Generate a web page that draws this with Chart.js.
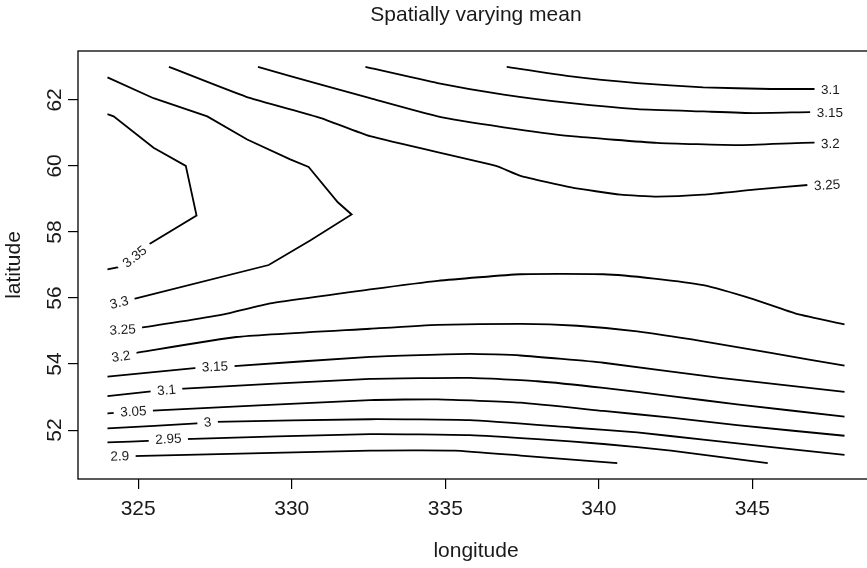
<!DOCTYPE html>
<html><head><meta charset="utf-8">
<script src="https://cdn.jsdelivr.net/npm/chart.js@4.4.1/dist/chart.umd.min.js"></script>
<style>html,body{margin:0;padding:0;background:#fff;overflow:hidden;width:867px;height:568px;}canvas{display:block;}</style>
</head><body>
<canvas id="c" width="880" height="568" style="width:880px;height:568px"></canvas>
<script>
// ---- text ----
const chartTitle = 'Spatially varying mean';
const xTitle = 'longitude';
const yTitle = 'latitude';
// ---- axes ----
const xTicks = [325, 330, 335, 340, 345];
const yTicks = [52, 54, 56, 58, 60, 62];
const xRange = [323.04, 348.96];
const yRange = [50.52, 63.48];

// ---- contour lines (longitude / latitude) ----
const lon_335 = [324.0, 324.4, 325.3, 326.9, 326.55, 325.5, 324.2, 324.0];
const lat_335 = [56.87, 56.94, 57.6, 58.5, 60.0, 60.55, 61.5, 61.57];

const lon_330 = [324.0, 325.5, 327.25, 328.55, 329.95, 330.55, 331.5, 331.95, 330.6, 329.25, 324.8, 324.0];
const lat_330 = [62.68, 62.05, 61.5, 60.8, 60.2, 59.97, 58.9, 58.53, 57.74, 57.0, 55.96, 55.78];

const lon_325_top = [326.0, 328.5, 330.95, 332.55, 336.65, 337.45, 339.1, 340.7, 341.9, 343.4, 345.05, 346.9, 348.0];
const lat_325_top = [63.0, 62.1, 61.45, 60.9, 60.0, 59.7, 59.35, 59.13, 59.07, 59.13, 59.28, 59.43, 59.5];

const lon_320_top = [328.9, 330.95, 332.55, 334.75, 336.9, 339.1, 341.9, 344.5, 346.65, 348.0];
const lat_320_top = [63.0, 62.46, 62.05, 61.5, 61.17, 60.9, 60.7, 60.63, 60.7, 60.72];

const lon_315_top = [332.4, 334.75, 336.9, 339.1, 341.25, 343.4, 345.05, 346.9, 348.0];
const lat_315_top = [63.0, 62.51, 62.16, 61.9, 61.72, 61.65, 61.6, 61.63, 61.63];

const lon_310_top = [337.0, 339.1, 341.25, 343.4, 345.6, 347.1, 348.0];
const lat_310_top = [63.0, 62.71, 62.51, 62.38, 62.33, 62.33, 62.33];

const lon_325_low = [324.0, 325.0, 327.7, 329.3, 332.55, 334.75, 337.45, 340.15, 341.8, 343.4, 345.05, 346.45, 348.0];
const lat_325_low = [55.04, 55.09, 55.49, 55.84, 56.26, 56.52, 56.72, 56.72, 56.59, 56.39, 55.96, 55.52, 55.2];

const lon_320_low = [324.0, 324.8, 328.2, 332.55, 334.75, 337.45, 339.3, 341.25, 343.4, 345.6, 348.0];
const lat_320_low = [54.21, 54.32, 54.82, 55.07, 55.19, 55.22, 55.16, 54.99, 54.69, 54.34, 53.95];

const lon_315_low = [324.0, 327.0, 328.0, 332.55, 335.8, 337.45, 340.15, 343.95, 348.0];
const lat_315_low = [53.62, 53.89, 53.93, 54.22, 54.31, 54.26, 54.04, 53.58, 53.16];

const lon_310_low = [324.0, 325.5, 326.35, 332.55, 335.8, 338.0, 340.15, 342.35, 344.5, 348.0];
const lat_310_low = [53.03, 53.18, 53.25, 53.55, 53.58, 53.48, 53.28, 53.03, 52.78, 52.41];

const lon_305 = [324.0, 325.3, 332.55, 334.75, 337.45, 340.15, 342.35, 344.5, 348.0];
const lat_305 = [52.51, 52.58, 52.91, 52.93, 52.83, 52.58, 52.38, 52.15, 51.83];

const lon_300 = [324.0, 327.05, 327.5, 332.55, 335.8, 339.1, 341.25, 343.4, 348.0];
const lat_300 = [52.05, 52.21, 52.25, 52.33, 52.3, 52.08, 51.93, 51.71, 51.25];

const lon_295 = [324.0, 325.5, 326.5, 332.55, 335.8, 338.0, 340.15, 342.35, 345.5];
const lat_295 = [51.63, 51.68, 51.73, 51.88, 51.85, 51.73, 51.58, 51.38, 51.0];

const lon_290 = [324.0, 324.8, 332.55, 335.3, 337.45, 340.6];
const lat_290 = [51.19, 51.21, 51.38, 51.38, 51.23, 51.0];

// ---- contour labels ----
const labelText = ['3.35', '3.3', '3.25', '3.2', '3.15', '3.1', '3.05', '3', '2.95', '2.9', '3.1', '3.15', '3.2', '3.25'];
const labelLon  = [324.89, 324.38, 324.49, 324.44, 327.5, 325.92, 324.84, 327.26, 325.98, 324.4, 347.54, 347.52, 347.54, 347.43];
const labelLat  = [57.25, 55.86, 55.04, 54.23, 53.92, 53.21, 52.56, 52.23, 51.73, 51.21, 62.3, 61.6, 60.67, 59.42];
const labelLine = [0, 1, 6, 7, 8, 9, 10, 11, 12, 13, 5, 4, 3, 2];

const contours = [
  {lon: lon_335, lat: lat_335, sharp: true},
  {lon: lon_330, lat: lat_330, sharp: true},
  {lon: lon_325_top, lat: lat_325_top},
  {lon: lon_320_top, lat: lat_320_top},
  {lon: lon_315_top, lat: lat_315_top},
  {lon: lon_310_top, lat: lat_310_top},
  {lon: lon_325_low, lat: lat_325_low},
  {lon: lon_320_low, lat: lat_320_low},
  {lon: lon_315_low, lat: lat_315_low},
  {lon: lon_310_low, lat: lat_310_low},
  {lon: lon_305, lat: lat_305},
  {lon: lon_300, lat: lat_300},
  {lon: lon_295, lat: lat_295},
  {lon: lon_290, lat: lat_290}
];

const FONT = '"Liberation Sans", Arial, Helvetica, sans-serif';
const TEXT = '#1a1a1a';

const datasets = contours.map(c => ({
  data: c.lon.map((x, i) => ({x: x, y: c.lat[i]})),
  showLine: true,
  borderColor: '#000',
  borderWidth: 1.8,
  pointRadius: 0,
  tension: c.sharp ? 0 : 0.15,
  fill: false
}));

const frameAndText = {
  id: 'frameAndText',
  afterDatasetsDraw(chart) {
    const {ctx, chartArea: a, scales: {x, y}} = chart;
    ctx.save();
    ctx.font = '13.5px ' + FONT;
    ctx.textAlign = 'center';
    ctx.textBaseline = 'middle';
    labelText.forEach((t, i) => {
      const px = x.getPixelForValue(labelLon[i]);
      const py = y.getPixelForValue(labelLat[i]);
      const c = contours[labelLine[i]];
      let best = Infinity, ang = 0;
      for (let k = 0; k < c.lon.length - 1; k++) {
        const ax = x.getPixelForValue(c.lon[k]), ay = y.getPixelForValue(c.lat[k]);
        const bx = x.getPixelForValue(c.lon[k + 1]), by = y.getPixelForValue(c.lat[k + 1]);
        const dx = bx - ax, dy = by - ay;
        const L = dx * dx + dy * dy;
        let u = L ? ((px - ax) * dx + (py - ay) * dy) / L : 0;
        u = Math.max(0, Math.min(1, u));
        const qx = ax + u * dx - px, qy = ay + u * dy - py;
        const d = qx * qx + qy * qy;
        if (d < best) { best = d; ang = Math.atan2(dy, dx); }
      }
      if (ang > Math.PI / 2) ang -= Math.PI;
      if (ang < -Math.PI / 2) ang += Math.PI;
      ctx.save();
      ctx.translate(px, py);
      ctx.rotate(ang);
      const w = ctx.measureText(t).width;
      ctx.fillStyle = '#fff';
      ctx.fillRect(-w / 2 - 6.5, -6.5, w + 13, 13);
      ctx.fillStyle = TEXT;
      ctx.fillText(t, 0, 0.5);
      ctx.restore();
    });
    ctx.strokeStyle = '#000';
    ctx.lineWidth = 1.3;
    ctx.strokeRect(a.left, a.top, a.right - a.left, a.bottom - a.top);
    ctx.font = '21px ' + FONT;
    ctx.fillStyle = TEXT;
    ctx.textAlign = 'center';
    ctx.textBaseline = 'middle';
    ctx.fillText(chartTitle, (a.left + a.right) / 2, 15);
    ctx.restore();
  }
};

new Chart(document.getElementById('c'), {
  type: 'scatter',
  data: {datasets},
  plugins: [frameAndText],
  options: {
    responsive: false,
    animation: false,
    devicePixelRatio: 1,
    layout: {padding: {top: 51, right: 6, left: 0, bottom: 0}},
    plugins: {legend: {display: false}, tooltip: {enabled: false}, title: {display: false}},
    scales: {
      x: {
        type: 'linear', min: xRange[0], max: xRange[1],
        afterBuildTicks: s => { s.ticks = xTicks.map(v => ({value: v})); },
        afterFit: s => { s.height = 89; },
        grid: {drawOnChartArea: false, drawTicks: true, tickLength: 10, color: '#000', lineWidth: 1.2},
        border: {display: false},
        ticks: {color: TEXT, font: {family: FONT, size: 21}, padding: 8, maxRotation: 0, callback: v => String(v)},
        title: {display: true, text: xTitle, color: TEXT, font: {family: FONT, size: 21}, padding: {top: 0, bottom: 4}}
      },
      y: {
        type: 'linear', min: yRange[0], max: yRange[1],
        afterBuildTicks: s => { s.ticks = yTicks.map(v => ({value: v})); },
        afterFit: s => { s.width = 78; },
        grid: {drawOnChartArea: false, drawTicks: true, tickLength: 10, color: '#000', lineWidth: 1.2},
        border: {display: false},
        ticks: {color: TEXT, font: {family: FONT, size: 21}, padding: 1, minRotation: 90, maxRotation: 90, crossAlign: 'center', callback: v => String(v)},
        title: {display: true, text: yTitle, color: TEXT, font: {family: FONT, size: 21}, padding: {top: 2, bottom: 0}}
      }
    }
  }
});
</script>
</body></html>
